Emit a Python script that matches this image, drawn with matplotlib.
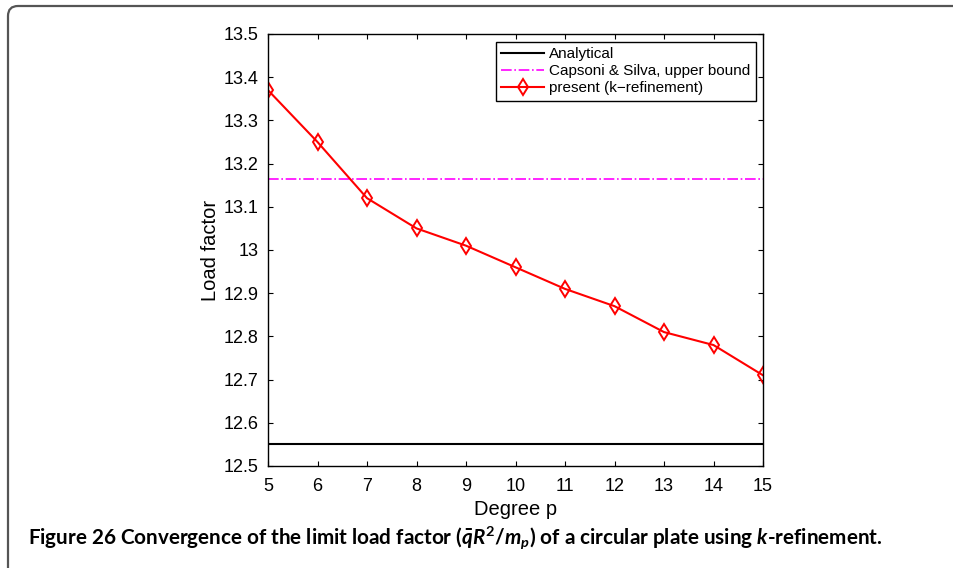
import matplotlib
matplotlib.use("Agg")
import matplotlib.pyplot as plt
from matplotlib.patches import FancyBboxPatch
from matplotlib.transforms import IdentityTransform

plt.rcParams['font.family'] = ['Liberation Sans', 'DejaVu Sans']

# grau p e fator de carga (k-refinement)
graus = [5, 6, 7, 8, 9, 10, 11, 12, 13, 14, 15]
fator_carga = [13.37, 13.25, 13.12, 13.05, 13.01, 12.96, 12.91, 12.87, 12.81, 12.78, 12.71]
analitico = 12.55
capsoni_silva = 13.165

xticks = list(range(5, 16))
yticks = [12.5, 12.6, 12.7, 12.8, 12.9, 13, 13.1, 13.2, 13.3, 13.4, 13.5]
yticklabels = ['12.5', '12.6', '12.7', '12.8', '12.9', '13', '13.1', '13.2', '13.3', '13.4', '13.5']

W, H = 954, 568
fig = plt.figure(figsize=(W / 100, H / 100), dpi=100)
ax = fig.add_axes([268 / W, 1 - 466 / H, 495 / W, 432 / H])

ax.plot([graus[0], graus[-1]], [analitico, analitico], 'k-', lw=1.5, label='Analytical')
ax.plot([graus[0], graus[-1]], [capsoni_silva, capsoni_silva], '-.', color='#ff00ff', lw=1.2,
        label='Capsoni & Silva, upper bound')
ax.plot(graus, fator_carga, '-', color='red', lw=1.5, marker='d', markersize=8,
        markerfacecolor='none', markeredgecolor='red', markeredgewidth=1.4,
        label='present (k\u2212refinement)')

ax.set_xlim(5, 15)
ax.set_ylim(12.5, 13.5)
ax.set_xticks(xticks)
ax.set_yticks(yticks)
ax.set_yticklabels(yticklabels)
ax.tick_params(direction='in', top=True, right=True, labelsize=13, length=3.8, width=0.8)
ax.tick_params(axis='y', pad=7)
ax.tick_params(axis='x', pad=8.5)
for s in ax.spines.values():
    s.set_linewidth(1.0)

ax.set_xlabel('Degree p', fontsize=14.5, labelpad=4)
ax.set_ylabel('Load factor', fontsize=14.5, labelpad=2)

leg = ax.legend(loc='upper right', fontsize=11, handlelength=2.8, borderpad=0.35,
                labelspacing=0.2, handletextpad=0.35, borderaxespad=0, fancybox=False,
                framealpha=1, bbox_to_anchor=((756 - 268) / 495, 1 - 8 / 432))
leg.get_frame().set_edgecolor('black')
leg.get_frame().set_linewidth(1.0)

# moldura cinza com canto arredondado
moldura = FancyBboxPatch((8, -60), 1100, 622, boxstyle='round,pad=0,rounding_size=10',
                         transform=IdentityTransform(), facecolor='none',
                         edgecolor='#555555', lw=1.6)
fig.add_artist(moldura)

plt.rcParams['mathtext.fontset'] = 'custom'
plt.rcParams['mathtext.it'] = 'Lato:bold:italic'
plt.rcParams['mathtext.rm'] = 'Lato:bold'
plt.rcParams['mathtext.bf'] = 'Lato:bold'
fig.text(28 / W, 1 - 544 / H,
         r'Figure 26 Convergence of the limit load factor ($\bar{q}R^2/m_p$) of a circular plate using $k$-refinement.',
         fontsize=14.9, fontweight='bold', family='Lato', va='baseline', ha='left')

fig.savefig('out.png', dpi=100)
